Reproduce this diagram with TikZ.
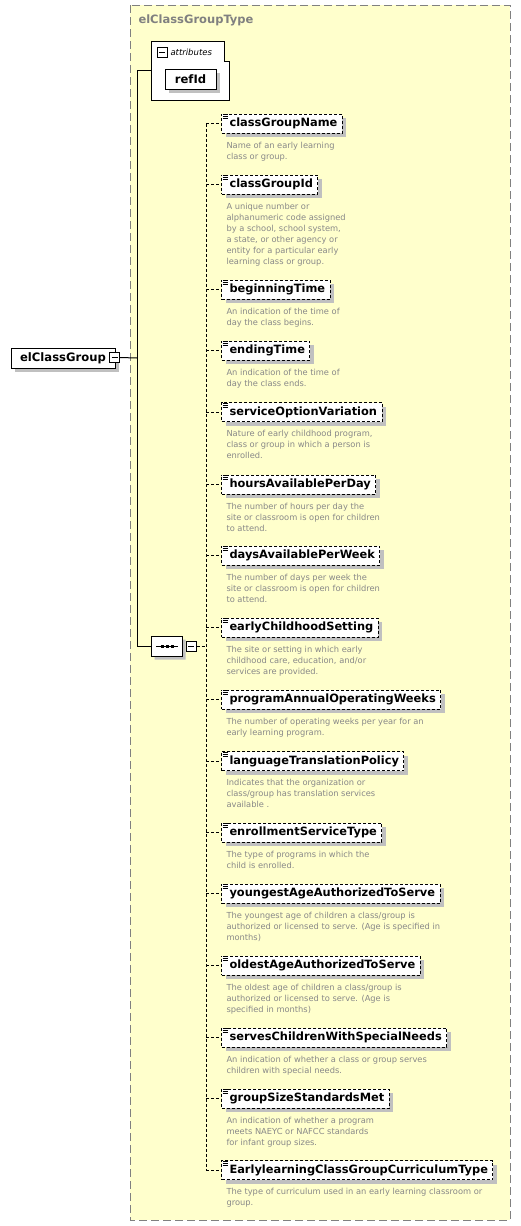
\documentclass[tikz,border=0pt]{standalone}
\usepackage{fontspec}
\setmainfont{DejaVu Sans}
\usepackage{tikz}
\usetikzlibrary{positioning, shadows, shapes.misc}
\definecolor{typefill}{RGB}{255,255,204}
\definecolor{typeline}{RGB}{128,128,128}
\definecolor{doctext}{RGB}{136,136,136}
\definecolor{shadowgray}{RGB}{192,192,192}

\begin{document}
\begin{tikzpicture}[x=1pt, y=-1pt, line width=1pt,
    typebox/.style={draw=typeline, fill=typefill, line width=1pt,
                    dash pattern=on 8pt off 4pt},
    elem/.style={draw, fill=white, anchor=west, dash pattern=on 3pt off 2pt,
                 minimum height=19pt, inner xsep=5pt, inner ysep=0pt,
                 font=\bfseries\fontsize{11.4}{13}\selectfont,
                 drop shadow={shadow xshift=4pt, shadow yshift=-4pt,
                              fill=shadowgray, opacity=1}},
    solidbox/.style={draw, fill=white, minimum height=20pt, inner ysep=0pt,
                     font=\bfseries\fontsize{11.6}{13}\selectfont,
                     drop shadow={shadow xshift=4pt, shadow yshift=-4pt,
                                  fill=shadowgray, opacity=1}},
    doc/.style={anchor=north west, inner sep=0pt, align=left, text=doctext,
                font=\fontsize{8.3}{11}\selectfont},
    toggle/.style={draw, fill=white, minimum size=10pt, inner sep=0pt,
                   path picture={\draw ([xshift=2pt]path picture bounding box.west)
                                 -- ([xshift=-2pt]path picture bounding box.east);}},
    seqbox/.style={chamfered rectangle, chamfered rectangle xsep=6pt,
                   chamfered rectangle ysep=6pt, draw, fill=white,
                   minimum width=31pt, minimum height=20pt, inner sep=0pt,
                   drop shadow={shadow xshift=3pt, shadow yshift=-3pt,
                                fill=shadowgray, opacity=1}},
    conn/.style={dash pattern=on 3pt off 2pt},
    link/.style={line width=1pt}]
  \useasboundingbox (0,0) rectangle (521,1226);

  % complex type frame
  \draw[typebox] (130,5) rectangle (510,1220);
  \node[anchor=west, inner sep=0pt, text=typeline,
        font=\bfseries\fontsize{11.5}{13}\selectfont] (typename) at (138,20) {elClassGroupType};

  % attributes
  \node[minimum width=78pt, minimum height=59pt, inner sep=0pt] (attrs) at (190,70.5) {};
  \draw[fill=white] (151,41) -- (224,41) -- (224,61) -- (229,61) -- (229,100) -- (151,100) -- cycle;
  \node[toggle] (attrtoggle) at (162,52) {};
  \node[anchor=west, inner sep=0pt, font=\itshape\fontsize{8.5}{10}\selectfont] (attrlabel)
       at (170,52) {attributes};
  \node[solidbox, minimum width=51pt, inner xsep=0pt] (refid) at (190.5,79) {refId};

  % root element
  \node[solidbox, minimum width=104pt] (root) at (63,358) {elClassGroup};
  \node[toggle] (roottoggle) at (114.5,357.5) {};
  \coordinate (hub) at (137,358);
  \draw[link] (roottoggle.east) -- (hub);
  \draw[link] (hub) |- (attrs.west);

  % sequence
  \node[seqbox] (seq) at (167,646.5) {};
  \draw[link] ([xshift=5pt]seq.west) -- ([xshift=-5pt]seq.east);
  \foreach \dx in {-5,0,5}
    \fill ([xshift=\dx pt]seq.center) ++(-1.5,-1.5) rectangle ++(3,3);
  \node[toggle] (seqtoggle) at (191,646.5) {};
  \draw[link] (hub) |- (seq.west);
  \coordinate (jseq) at (206,646.5);
  \draw[conn] (seqtoggle.east) -- (jseq);

  % child elements
  \foreach \elname/\ely/\eldesc in {
      classGroupName/123.5/{Name of an early learning\\class or group.},
      classGroupId/184.5/{A unique number or\\alphanumeric code assigned\\by a school, school system,\\a state, or other agency or\\entity for a particular early\\learning class or group.},
      beginningTime/289.5/{An indication of the time of\\day the class begins.},
      endingTime/350.5/{An indication of the time of\\day the class ends.},
      serviceOptionVariation/412/{Nature of early childhood program,\\class or group in which a person is\\enrolled.},
      hoursAvailablePerDay/484.5/{The number of hours per day the\\site or classroom is open for children\\to attend.},
      daysAvailablePerWeek/555.5/{The number of days per week the\\site or classroom is open for children\\to attend.},
      earlyChildhoodSetting/627.5/{The site or setting in which early\\childhood care, education, and/or\\services are provided.},
      programAnnualOperatingWeeks/699.5/{The number of operating weeks per year for an\\early learning program.},
      languageTranslationPolicy/761/{Indicates that the organization or\\class/group has translation services\\available .},
      enrollmentServiceType/832.5/{The type of programs in which the\\child is enrolled.},
      youngestAgeAuthorizedToServe/893.5/{The youngest age of children a class/group is\\authorized or licensed to serve. (Age is specified in\\months)},
      oldestAgeAuthorizedToServe/965.5/{The oldest age of children a class/group is\\authorized or licensed to serve. (Age is\\specified in months)},
      servesChildrenWithSpecialNeeds/1037.5/{An indication of whether a class or group serves\\children with special needs.},
      groupSizeStandardsMet/1098.5/{An indication of whether a program\\meets NAEYC or NAFCC standards\\for infant group sizes.},
      EarlylearningClassGroupCurriculumType/1170/{The type of curriculum used in an early learning classroom or\\group.}} {
    \node[elem] (\elname) at (221,\ely) {\hspace*{3pt}\elname};
    \fill[white] ([shift={(1,0.5)}]\elname.north west) rectangle ++(6,5);
    \foreach \dy in {1,3,5}
      \draw[line width=0.8pt] ([shift={(1.5,\dy)}]\elname.north west) -- ++(5,0);
    \node[doc] (d\elname) at ([shift={(5,8)}]\elname.south west) {\eldesc};
    \coordinate (j\elname) at (206,\ely);
    \draw[conn] (j\elname) -- (\elname.west);
  }
  \draw[conn] (jclassGroupName) -- (jEarlylearningClassGroupCurriculumType);
\end{tikzpicture}
\end{document}
